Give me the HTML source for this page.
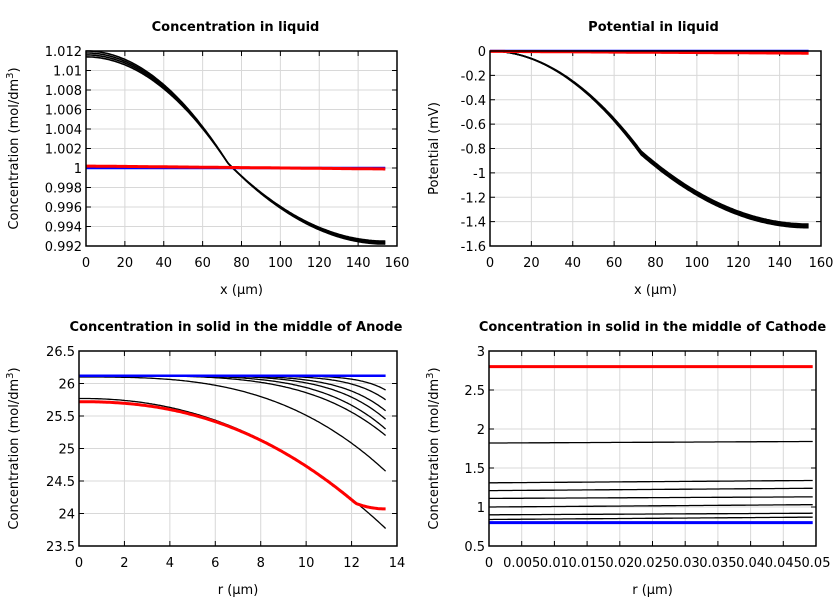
<!DOCTYPE html>
<html><head><meta charset="utf-8"><style>
html,body{margin:0;padding:0;background:#fff;width:840px;height:600px;overflow:hidden}
svg text{font-family:"DejaVu Sans","Liberation Sans",sans-serif;font-size:13px;fill:#000}
</style></head><body>
<svg id="s" width="840" height="600" xmlns="http://www.w3.org/2000/svg"></svg>
<script>
const S=document.getElementById('s');let h='';
function plot(o){
 const {L,T,R,B,x0,x1,y0,y1}=o;
 const X=v=>L+(v-x0)/(x1-x0)*(R-L), Y=v=>B-(v-y0)/(y1-y0)*(B-T);
 o.X=X;o.Y=Y;
 o.xt.forEach((v,i)=>{const x=X(v);h+=`<line x1="${x}" y1="${T}" x2="${x}" y2="${B}" stroke="#d8d8d8"/>`;
  h+=`<line x1="${x}" y1="${B}" x2="${x}" y2="${B-5}" stroke="#000"/><line x1="${x}" y1="${T}" x2="${x}" y2="${T+5}" stroke="#000"/>`;
  h+=`<text x="${x}" y="${B+21}" text-anchor="middle">${o.xl[i]}</text>`;});
 o.yt.forEach((v,i)=>{const y=Y(v);h+=`<line x1="${L}" y1="${y}" x2="${R}" y2="${y}" stroke="#d8d8d8"/>`;
  h+=`<line x1="${L}" y1="${y}" x2="${L+5}" y2="${y}" stroke="#000"/><line x1="${R}" y1="${y}" x2="${R-5}" y2="${y}" stroke="#000"/>`;
  h+=`<text x="${L-4}" y="${y+5}" text-anchor="end">${o.yl[i]}</text>`;});
 h+=`<text x="${(L+R)/2+o.tdx}" y="${T-20}" text-anchor="middle" font-weight="bold" style="font-size:13px">${o.title}</text>`;
 h+=`<text x="${(L+R)/2}" y="${B+48}" text-anchor="middle">${o.xlab}</text>`;
 h+=`<text transform="translate(${o.yx},${(T+B)/2}) rotate(-90)" text-anchor="middle">${o.ylab}</text>`;
 o.series.forEach(s=>{let p='';for(let i=0;i<=200;i++){const v=s.a+(s.b-s.a)*i/200;p+=(i?'L':'M')+X(v).toFixed(1)+' '+Y(s.f(v)).toFixed(1);}
  h+=`<path d="${p}" fill="none" stroke="${s.c}" stroke-width="${s.w}"/>`;});
 h+=`<rect x="${L}" y="${T}" width="${R-L}" height="${B-T}" fill="none" stroke="#000" stroke-width="1.5"/>`;
}
const ylab='Concentration (mol/dm<tspan dy="-5" style="font-size:10px">3</tspan><tspan dy="5">)</tspan>';
function rng(a,b,s){const r=[];for(let v=a;v<=b+1e-9;v+=s)r.push(+v.toFixed(6));return r;}
// Plot 1
let s1=[];
[0,0.0002,0.0004,-0.0002].forEach(d=>s1.push({a:0,b:154,c:'#000',w:1.6,f:x=>x<73?1.0118-d-(0.0113-d)*(x/73)**2:0.9923+d*0.5+(0.0082-d*0.5)*((154-x)/81)**2}));
s1.push({a:0,b:154,c:'#00f',w:2.5,f:x=>1.0});
s1.push({a:0,b:154,c:'#f00',w:3,f:x=>1.0002-0.0003*x/154});
plot({L:86,T:51,R:397,B:246,x0:0,x1:160,y0:0.992,y1:1.012,xt:rng(0,160,20),xl:rng(0,160,20),yt:rng(0.992,1.012,0.002),
 yl:['0.992','0.994','0.996','0.998','1','1.002','1.004','1.006','1.008','1.01','1.012'],title:'Concentration in liquid',tdx:-6,xlab:'x (µm)',ylab:ylab,yx:18,series:s1});
// Plot 2
let s2=[];
[0,0.01,-0.01,0.02].forEach(d=>s2.push({a:0,b:154,c:'#000',w:1.6,f:x=>x<73?-(0.83+d)*(x/73)**2:-(1.43+d)+(0.6)*((154-x)/81)**2}));
s2.push({a:0,b:154,c:'#00f',w:2.5,f:x=>0});
s2.push({a:0,b:154,c:'#f00',w:3,f:x=>-0.003-0.015*x/154});
plot({L:490,T:51,R:821,B:246,x0:0,x1:160,y0:-1.6,y1:0,xt:rng(0,160,20),xl:rng(0,160,20),yt:rng(-1.6,0,0.2),
 yl:['-1.6','-1.4','-1.2','-1','-0.8','-0.6','-0.4','-0.2','0'],title:'Potential in liquid',tdx:-2,xlab:'x (µm)',ylab:'Potential (mV)',yx:438,series:s2});
// Plot 3
let s3=[];
[[0.22,12],[0.37,9],[0.54,7],[0.67,6],[0.82,5],[0.92,4.2]].forEach(([d,p])=>s3.push({a:0,b:13.5,c:'#000',w:1.3,f:r=>26.12-d*(r/13.5)**p}));
s3.push({a:0,b:13.5,c:'#000',w:1.3,f:r=>26.1-1.45*(r/13.5)**3});
s3.push({a:0,b:13.5,c:'#000',w:1.3,f:r=>25.77-2.0*(r/13.5)**2.2});
s3.push({a:0,b:13.5,c:'#00f',w:2.5,f:r=>26.12});
s3.push({a:0,b:13.5,c:'#f00',w:3,f:r=>{const f=q=>25.72-1.75*(q/12.8)**2.3;if(r<=12.2)return f(r);const t=(r-12.2)/1.3;return f(12.2)+(24.07-f(12.2))*(2*t-t*t);}});
plot({L:79,T:351,R:397,B:546,x0:0,x1:14,y0:23.5,y1:26.5,xt:rng(0,14,2),xl:rng(0,14,2),yt:rng(23.5,26.5,0.5),
 yl:['23.5','24','24.5','25','25.5','26','26.5'],title:'Concentration in solid in the middle of Anode',tdx:-2,xlab:'r (µm)',ylab:ylab,yx:18,series:s3});
// Plot 4
let s4=[];
[[1.82,1.84],[1.31,1.34],[1.21,1.24],[1.11,1.13],[1.0,1.03],[0.9,0.92],[0.84,0.87]].forEach(([a,b])=>s4.push({a:0,b:0.0495,c:'#000',w:1.3,f:x=>a+(b-a)*x/0.0495}));
s4.push({a:0,b:0.0495,c:'#00f',w:3,f:x=>0.8});
s4.push({a:0,b:0.0495,c:'#f00',w:3,f:x=>2.8});
plot({L:489,T:351,R:816,B:546,x0:0,x1:0.05,y0:0.5,y1:3,xt:rng(0,0.05,0.005),xl:['0','0.005','0.01','0.015','0.02','0.025','0.03','0.035','0.04','0.045','0.05'],yt:rng(0.5,3,0.5),
 yl:['0.5','1','1.5','2','2.5','3'],title:'Concentration in solid in the middle of Cathode',tdx:0,xlab:'r (µm)',ylab:ylab,yx:438,series:s4});
S.innerHTML=h;
</script>
</body></html>
